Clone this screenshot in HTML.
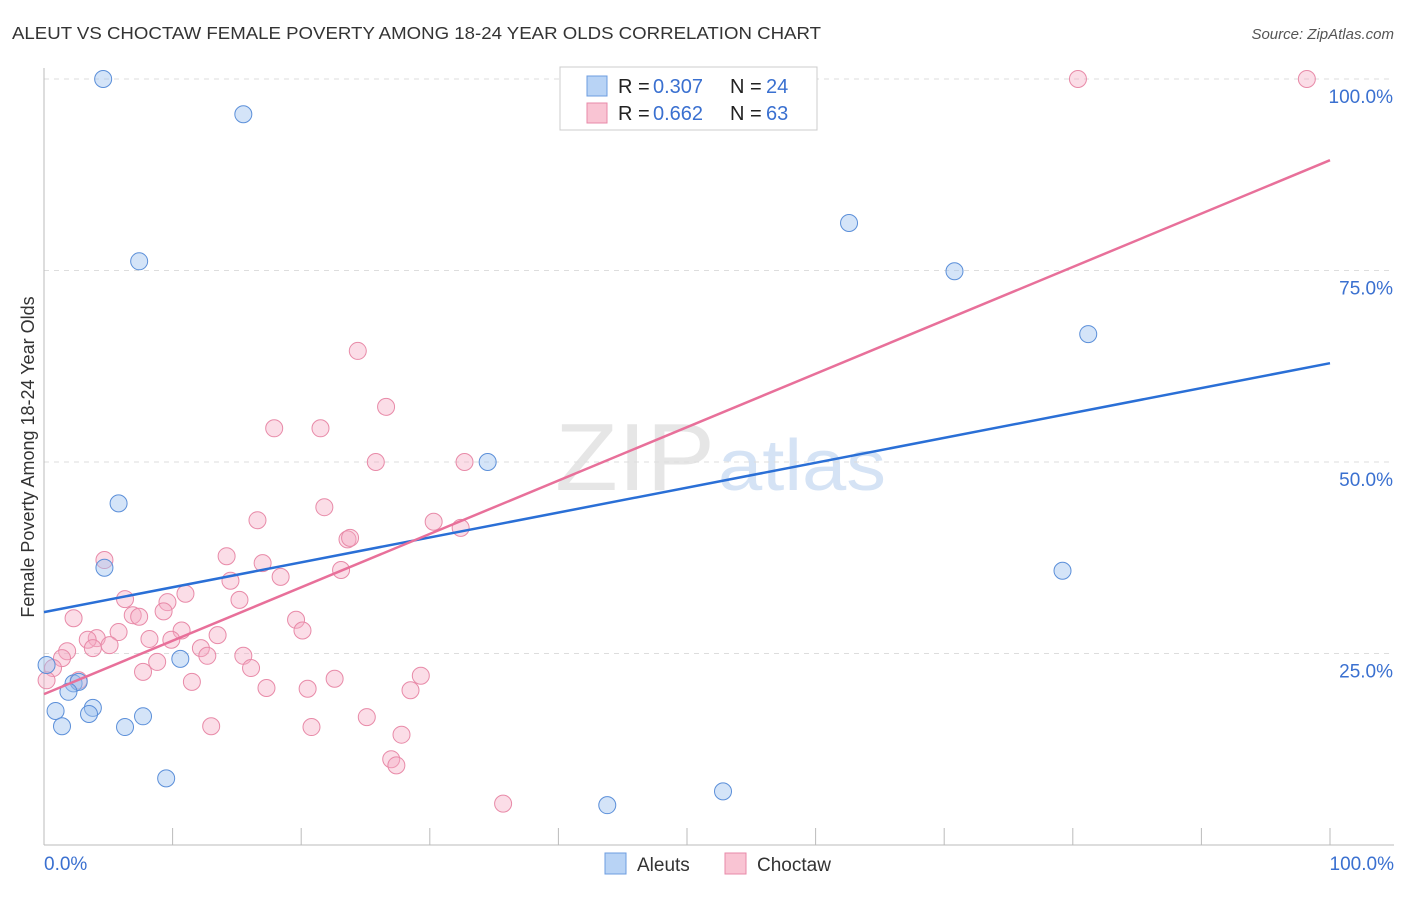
<!DOCTYPE html>
<html><head><meta charset="utf-8"><style>
body{margin:0;background:#fff;font-family:"Liberation Sans",sans-serif}
svg text{font-family:"Liberation Sans",sans-serif}
</style></head><body>
<svg id="chart" width="1406" height="892" xmlns="http://www.w3.org/2000/svg">
<text x="12" y="39" font-size="17.5" fill="#333" textLength="809" lengthAdjust="spacingAndGlyphs">ALEUT VS CHOCTAW FEMALE POVERTY AMONG 18-24 YEAR OLDS CORRELATION CHART</text>
<text x="1394" y="39" font-size="15" fill="#555" text-anchor="end" font-style="italic">Source: ZipAtlas.com</text>
<text x="555" y="490" font-size="96" fill="#e6e6e6" textLength="160" lengthAdjust="spacingAndGlyphs" font-family="Liberation Serif">ZIP</text>
<text x="718" y="490" font-size="72" fill="#d5e3f5" textLength="168" lengthAdjust="spacingAndGlyphs">atlas</text>
<text transform="translate(34,457) rotate(-90)" font-size="18" fill="#333" text-anchor="middle">Female Poverty Among 18-24 Year Olds</text>
<g id="grid"></g><g id="pts"></g><g id="lines"></g>
<g>
<rect x="560" y="67" width="257" height="63" fill="#fff" stroke="#ccc"/>
<rect x="587" y="76" width="20" height="20" fill="#b8d3f5" stroke="#6d9de0"/>
<rect x="587" y="103" width="20" height="20" fill="#f9c4d3" stroke="#e88aa8"/>
<text x="618" y="93" font-size="20" fill="#222">R =</text>
<text x="653" y="93" font-size="20" fill="#3a70d0">0.307</text>
<text x="730" y="93" font-size="20" fill="#222">N =</text>
<text x="766" y="93" font-size="20" fill="#3a70d0">24</text>
<text x="618" y="120" font-size="20" fill="#222">R =</text>
<text x="653" y="120" font-size="20" fill="#3a70d0">0.662</text>
<text x="730" y="120" font-size="20" fill="#222">N =</text>
<text x="766" y="120" font-size="20" fill="#3a70d0">63</text>
</g>
<g>
<rect x="605" y="853" width="21" height="21" fill="#b8d3f5" stroke="#6d9de0"/>
<text x="637" y="871" font-size="19" fill="#333">Aleuts</text>
<rect x="725" y="853" width="21" height="21" fill="#f9c4d3" stroke="#e88aa8"/>
<text x="757" y="871" font-size="19" fill="#333">Choctaw</text>
</g>
</svg>
<script>
const yTicks=[25,50,75,100];
const yTickLabels=["25.0%","50.0%","75.0%","100.0%"];
const xTickLabels=["0.0%","100.0%"];
const aleutX=[4.6,15.5,7.4,5.8,4.7,34.5,62.6,70.8,81.2,79.2,10.6,0.2,2.3,2.7,1.9,0.9,3.8,3.5,1.4,6.3,7.7,9.5,43.8,52.8];
const aleutY=[100,95.4,76.2,44.6,36.2,50.0,81.2,74.9,66.7,35.8,24.3,23.5,21.1,21.3,20.0,17.5,17.9,17.1,15.5,15.4,16.8,8.7,5.2,7.0];
const choctawX=[80.4,98.2,24.4,26.6,17.9,21.5,25.8,32.7,21.8,16.6,30.3,32.4,23.6,23.8,4.7,14.2,17.0,23.1,18.4,14.5,6.3,11.0,15.2,9.6,9.3,6.9,7.4,2.3,19.6,20.1,10.7,5.8,13.5,8.2,4.1,3.4,9.9,5.1,12.2,3.8,1.8,12.7,15.5,1.4,8.8,16.1,0.7,7.7,29.3,22.6,11.5,2.7,17.3,20.5,28.5,0.2,13.0,20.8,25.1,27.8,27.0,27.4,35.7];
const choctawY=[100,100,64.5,57.2,54.4,54.4,50.0,50.0,44.1,42.4,42.2,41.4,39.9,40.1,37.2,37.7,36.8,35.9,35.0,34.5,32.1,32.8,32.0,31.7,30.5,30.0,29.8,29.6,29.4,28.0,28.0,27.8,27.4,26.9,27.0,26.8,26.8,26.1,25.7,25.7,25.3,24.7,24.7,24.4,23.9,23.1,23.1,22.6,22.1,21.7,21.3,21.5,20.5,20.4,20.2,21.5,15.5,15.4,16.7,14.4,11.2,10.4,5.4];
const aleutTrend=[30.4,62.9];
const choctawTrend=[19.7,89.4];
const NS='http://www.w3.org/2000/svg';
const X=v=>44+v*12.86, Y=v=>845-v*7.66;
function mk(t,a,p){const e=document.createElementNS(NS,t);for(const k in a)e.setAttribute(k,a[k]);p.appendChild(e);return e;}
const g=document.getElementById('grid');
yTicks.forEach((t,i)=>{
 const l=mk('line',{x1:44,x2:1394,y1:Y(t),y2:Y(t),stroke:'#ddd','stroke-dasharray':'5,5'},g);
 
 
 const tx=mk('text',{x:1393,y:Y(t)+24,'font-size':19,fill:'#3a70d0','text-anchor':'end'},g);tx.textContent=yTickLabels[i];
 
 
});
mk('line',{x1:44,x2:44,y1:68,y2:845,stroke:'#bbb'},g);
mk('line',{x1:44,x2:1394,y1:845,y2:845,stroke:'#bbb'},g);
for(let i=1;i<=10;i++){const t=mk('line',{x1:X(i*10),x2:X(i*10),y1:828,y2:845,stroke:'#bbb'},g);
 
 }
[[0,'start'],[100,'end']].forEach((d,i)=>{const t=mk('text',{x:i?1394:44,y:870,'font-size':19,fill:'#3a70d0','text-anchor':d[1]},g);t.textContent=xTickLabels[i];
 
 });
const p=document.getElementById('pts');
choctawX.forEach((x,i)=>{const c=mk('circle',{cx:X(x),cy:Y(choctawY[i]),r:8.5,fill:'rgba(245,170,195,0.4)',stroke:'#e88aa8','stroke-width':1},p);
 
 });
aleutX.forEach((x,i)=>{const c=mk('circle',{cx:X(x),cy:Y(aleutY[i]),r:8.5,fill:'rgba(160,195,240,0.45)',stroke:'#5b8fd9','stroke-width':1},p);
 
 });
const L=document.getElementById('lines');
const a=mk('line',{x1:X(0),y1:Y(aleutTrend[0]),x2:X(100),y2:Y(aleutTrend[1]),stroke:'#2a6fd6','stroke-width':2.5},L);


const c=mk('line',{x1:X(0),y1:Y(choctawTrend[0]),x2:X(100),y2:Y(choctawTrend[1]),stroke:'#e8709a','stroke-width':2.5},L);


</script>
</body></html>
